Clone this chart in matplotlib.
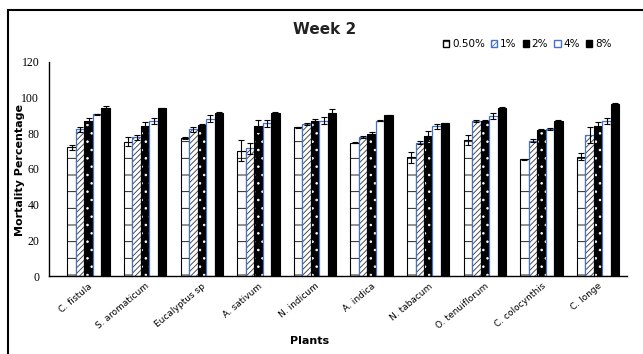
import numpy as np
import matplotlib
matplotlib.use("Agg")
import matplotlib.pyplot as plt
from matplotlib.patches import Patch, Rectangle

plants = ['C. fistula', 'S. aromaticum', 'Eucalyptus sp', 'A. sativum', 'N. indicum',
          'A. indica', 'N. tabacum', 'O. tenuiflorum', 'C. colocynthis', 'C. longe']
doses = ['0.50%', '1%', '2%', '4%', '8%']

# mortality (%) per dose
m_05 = [72.2, 75.3, 77.2, 70.3, 83.3, 74.8, 66.6, 76.3, 65.5, 67.0]
m_1 = [82.2, 77.8, 82.2, 71.6, 85.2, 78.1, 74.8, 87.0, 75.9, 79.0]
m_2 = [87.1, 84.0, 84.5, 84.0, 87.1, 79.4, 78.5, 87.0, 81.9, 84.0]
m_4 = [90.8, 87.0, 88.2, 85.6, 87.0, 87.0, 84.0, 89.7, 82.6, 87.0]
m_8 = [94.0, 94.0, 91.5, 91.5, 91.5, 90.2, 85.6, 94.0, 87.0, 96.7]

# error bars
e_05 = [1.5, 2.5, 0.5, 6.0, 0.5, 0.5, 3.0, 3.0, 0.3, 1.8]
e_1 = [1.5, 1.5, 1.5, 3.0, 0.5, 0.5, 1.0, 0.5, 1.0, 4.5]
e_2 = [1.5, 2.5, 0.5, 3.5, 1.0, 1.5, 3.0, 0.5, 0.5, 2.5]
e_4 = [0.3, 1.5, 2.0, 2.0, 2.0, 0.3, 1.5, 1.5, 0.5, 1.8]
e_8 = [1.5, 0.3, 0.3, 0.3, 2.0, 0.3, 0.3, 1.0, 0.3, 0.3]

plt.rcParams['hatch.linewidth'] = 0.6

fig = plt.figure(figsize=(6.43, 3.54), dpi=100)
ax = fig.add_axes([0.0762, 0.2203, 0.8988, 0.6046])

blue = '#4472C4'
x = np.arange(len(plants))
w = 0.15
offs = np.array([-2, -1, 0, 1, 2]) * w

series = [m_05, m_1, m_2, m_4, m_8]
errs = [e_05, e_1, e_2, e_4, e_8]

# 0.50%: white with horizontal ticks
ax.bar(x + offs[0], m_05, w, color='white', edgecolor='black', hatch='-', linewidth=0.8)
# 1%: diagonal hatch, blue outline
ax.bar(x + offs[1], m_1, w, color='white', edgecolor='#333333', hatch='//////', linewidth=0)
ax.bar(x + offs[1], m_1, w, color='none', edgecolor=blue, linewidth=0.9)
# 2%: black with white dots
ax.bar(x + offs[2], m_2, w, color='black', edgecolor='white', hatch='..', linewidth=0)
ax.bar(x + offs[2], m_2, w, color='none', edgecolor='black', linewidth=0.8)
# 4%: white, blue outline
ax.bar(x + offs[3], m_4, w, color='white', edgecolor=blue, linewidth=0.9)
# 8%: solid black
ax.bar(x + offs[4], m_8, w, color='black', edgecolor='black', linewidth=0.8)

for i in range(5):
    ax.errorbar(x + offs[i], series[i], yerr=errs[i], fmt='none', ecolor='black',
                elinewidth=0.8, capsize=2.5, capthick=0.8)

ax.set_xlim(-0.7, 9.51)
ax.set_ylim(0, 120)
ax.set_yticks([0, 20, 40, 60, 80, 100, 120])
ax.set_yticklabels(['0', '20', '40', '60', '80', '100', '120'], family='Liberation Serif', fontsize=8.5)
ax.tick_params(axis='y', length=0, pad=7)
ax.set_xticks(x)
ax.set_xticklabels(plants, rotation=40, ha='right', rotation_mode='anchor', fontsize=6.5)
ax.tick_params(axis='x', length=0, pad=4)
for s in ['top', 'right']:
    ax.spines[s].set_visible(False)
ax.spines['left'].set_linewidth(1.0)
ax.spines['bottom'].set_linewidth(1.0)

fig.text(20 / 643, 0.52, 'Mortality Percentage', fontsize=8, fontweight='bold',
         rotation=90, ha='center', va='center')
fig.text(310 / 643, 0.028, 'Plants', fontsize=8, fontweight='bold', ha='center')
fig.text(0.505, 0.905, 'Week 2', fontsize=11, fontweight='bold', ha='center', color='#222222')

handles = [
    Patch(facecolor='white', edgecolor='black', hatch='-'),
    Patch(facecolor='white', edgecolor=blue, hatch='//////'),
    Patch(facecolor='black', edgecolor='black', hatch='..'),
    Patch(facecolor='white', edgecolor=blue),
    Patch(facecolor='black', edgecolor='black'),
]
fig.legend(handles, doses, loc='center', bbox_to_anchor=(0.82, 0.875), ncol=5, frameon=False,
           fontsize=7.5, handlelength=0.6, handleheight=0.6, handletextpad=0.25, columnspacing=0.6)

# outer frame (only top/left edges fall inside the image)
fig.patches.append(Rectangle((8 / 643, -0.05), 1.1, 1 - 10 / 354 + 0.05, transform=fig.transFigure,
                             fill=False, edgecolor='black', linewidth=1.5))

fig.savefig('out.png', dpi=100)
